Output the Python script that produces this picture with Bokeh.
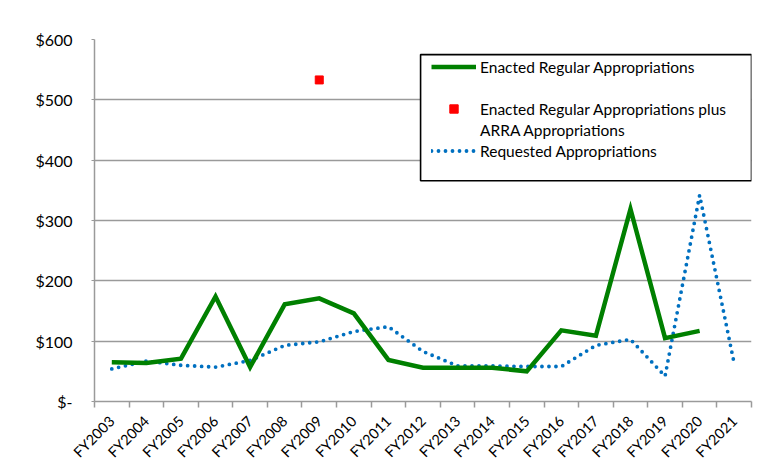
import math
from bokeh.plotting import figure
from bokeh.models import (Range1d, FixedTicker, Legend, LegendItem, BoxAnnotation,
                          ColumnDataSource)
from bokeh.embed import file_html
from bokeh.resources import INLINE

# ---- data ----
years = ["FY2003", "FY2004", "FY2005", "FY2006", "FY2007", "FY2008", "FY2009",
         "FY2010", "FY2011", "FY2012", "FY2013", "FY2014", "FY2015", "FY2016",
         "FY2017", "FY2018", "FY2019", "FY2020", "FY2021"]
enacted = [65, 64, 71, 174, 57, 161, 171, 146, 69, 56, 56, 56, 50, 118, 109, 319, 105, 117]
requested = [54, 67, 60, 57, 68, 93, 99, 116, 124, 83, 59, 59, 58, 58, 93, 103, 42, 342, 63]
arra_years = ["FY2009"]
arra_values = [533]
y_ticks = [0, 100, 200, 300, 400, 500, 600]
y_labels = ["$-", "$100", "$200", "$300", "$400", "$500", "$600"]

FONT = "Lato"
GRID = "#9a9a9a"

pos = {yr: i + 0.5 for i, yr in enumerate(years)}

p = figure(width=756, height=470, output_backend="svg", toolbar_location=None,
           x_range=Range1d(0, len(years)), y_range=Range1d(0, 600),
           min_border_left=94, min_border_right=5, min_border_top=39,
           min_border_bottom=69)
p.outline_line_color = None
p.background_fill_color = "white"
p.border_fill_color = "white"

# grid
p.xgrid.grid_line_color = None
p.ygrid.grid_line_color = GRID
p.ygrid.grid_line_width = 1.5

# x axis
p.xaxis.ticker = FixedTicker(ticks=[pos[y] for y in years],
                             minor_ticks=list(range(len(years) + 1)))
p.xaxis.major_label_overrides = {pos[y]: y for y in years}
p.xaxis.major_tick_line_color = None
p.xaxis.major_tick_out = 0
p.xaxis.major_tick_in = 0
p.xaxis.minor_tick_line_color = GRID
p.xaxis.minor_tick_line_width = 1.5
p.xaxis.minor_tick_out = 6
p.xaxis.minor_tick_in = 0
p.xaxis.axis_line_color = GRID
p.xaxis.axis_line_width = 1.5
p.xaxis.major_label_orientation = math.pi / 4
p.xaxis.major_label_text_font = FONT
p.xaxis.major_label_text_font_size = "14.5px"
p.xaxis.major_label_text_color = "black"
p.xaxis.major_label_standoff = 11

# y axis
p.yaxis.ticker = FixedTicker(ticks=y_ticks, minor_ticks=[])
p.yaxis.major_label_overrides = dict(zip(y_ticks, y_labels))
p.yaxis.major_tick_line_color = GRID
p.yaxis.major_tick_out = 3
p.yaxis.major_tick_in = 0
p.yaxis.minor_tick_line_color = None
p.yaxis.axis_line_color = GRID
p.yaxis.axis_line_width = 1.5
p.yaxis.major_label_text_font = FONT
p.yaxis.major_label_text_font_size = "16px"
p.yaxis.major_label_text_color = "black"
p.yaxis.major_label_standoff = 19

# series
src_e = ColumnDataSource(dict(x=[pos[y] for y in years[:len(enacted)]], y=enacted))
src_r = ColumnDataSource(dict(x=[pos[y] for y in years], y=requested))
src_a = ColumnDataSource(dict(x=[pos[y] for y in arra_years], y=arra_values))

r_req = p.line("x", "y", source=src_r, line_color="#0070C0", line_width=3.8,
               line_dash="0 7", line_cap="round")
r_enc = p.line("x", "y", source=src_e, line_color="#008000", line_width=4.5,
               line_join="miter")
r_arra = p.scatter("x", "y", source=src_a, marker="square", size=8,
                   fill_color="#FF0000", line_color="#FF0000")
blank = p.scatter(x=[], y=[], marker="square", size=1, fill_alpha=0, line_alpha=0)

# legend frame
frame = BoxAnnotation(left=9.43, right=len(years), top=575, bottom=366,
                      fill_color="white", fill_alpha=1.0,
                      line_color="black", line_alpha=1.0, line_width=1.6,
                      level="annotation")
p.add_layout(frame)

legend = Legend(items=[
    LegendItem(label="Enacted Regular Appropriations", renderers=[r_enc]),
    LegendItem(label=" ", renderers=[blank]),
    LegendItem(label="Enacted Regular Appropriations plus", renderers=[r_arra]),
    LegendItem(label="ARRA Appropriations", renderers=[blank]),
    LegendItem(label="Requested Appropriations", renderers=[r_req]),
], location=(337, 240), orientation="vertical")
legend.padding = 0
legend.margin = 0
legend.spacing = 0
legend.glyph_width = 45
legend.glyph_height = 21
legend.label_height = 21
legend.label_standoff = 4
legend.label_text_font = FONT
legend.label_text_font_size = "15.5px"
legend.label_text_color = "black"
legend.border_line_color = None
legend.background_fill_alpha = 0
legend.click_policy = "none"
p.add_layout(legend)

open("out.html", "w").write(file_html(p, INLINE))
